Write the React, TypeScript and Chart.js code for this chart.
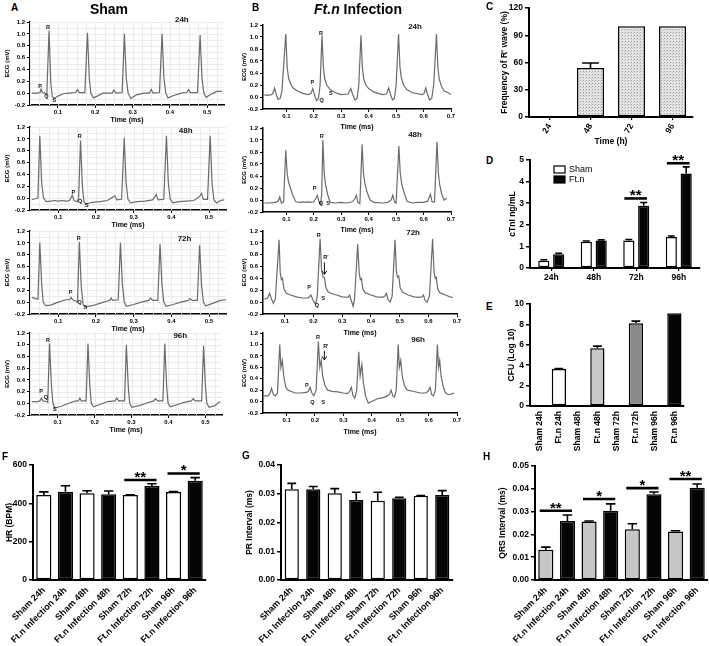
import React, { useEffect, useRef } from "react";
import { Chart, registerables } from "chart.js";

Chart.register(...registerables);

const FONT = '"Liberation Sans", Arial, Helvetica, sans-serif';
Chart.defaults.font.family = FONT;
Chart.defaults.color = "#000";

// ---------------- ECG traces (time in ms-axis units, mV) ----------------
const ecgSham24h: [number, number][] = [
  [0.03, 0], [0.045, 0], [0.052, 0.01], [0.055, 0.07], [0.058, 0.01], [0.066, 0], [0.07, -0.03], [0.076, 1.05],
  [0.081, 0.15], [0.085, -0.06], [0.09, -0.09], [0.1, -0.05], [0.115, -0.01], [0.13, 0], [0.147, 0.01], [0.152, 0.06],
  [0.157, 0.01], [0.172, 0.01], [0.179, 1.02], [0.184, 0.25], [0.188, 0], [0.195, -0.08], [0.205, -0.05], [0.22, 0],
  [0.245, 0], [0.25, 0.05], [0.255, 0], [0.272, 0.01], [0.278, 1.0], [0.283, 0.25], [0.288, 0], [0.295, -0.09],
  [0.31, -0.03], [0.33, 0], [0.345, 0], [0.35, 0.06], [0.355, 0], [0.372, 0.01], [0.379, 1.0], [0.384, 0.25],
  [0.389, 0], [0.395, -0.08], [0.41, -0.04], [0.43, 0], [0.445, 0.01], [0.45, 0.06], [0.455, 0.01], [0.474, 0.01],
  [0.481, 0.98], [0.486, 0.25], [0.491, 0], [0.497, -0.07], [0.51, -0.02], [0.525, 0.03], [0.54, 0.03],
];
const ecgSham48h: [number, number][] = [
  [0.03, -0.02], [0.04, -0.01], [0.046, 0.0], [0.051, 1.05], [0.056, 0.25], [0.061, 0.0], [0.068, -0.06], [0.08, -0.05],
  [0.09, -0.04], [0.1, -0.05], [0.11, -0.04], [0.12, -0.05], [0.13, -0.04], [0.137, 0.05], [0.142, -0.04], [0.15, -0.06],
  [0.154, 0.0], [0.159, 0.97], [0.164, 0.2], [0.168, -0.05], [0.173, -0.1], [0.19, -0.07], [0.21, -0.06], [0.23, -0.04],
  [0.245, 0.02], [0.25, 0.04], [0.255, -0.03], [0.268, -0.02], [0.275, 1.02], [0.28, 0.25], [0.285, -0.02], [0.292, -0.08],
  [0.31, -0.06], [0.33, -0.05], [0.35, -0.03], [0.36, 0.06], [0.365, -0.03], [0.38, -0.02], [0.387, 1.05], [0.392, 0.25],
  [0.397, -0.02], [0.404, -0.08], [0.42, -0.06], [0.44, -0.05], [0.46, -0.04], [0.475, 0.03], [0.48, 0.08], [0.485, -0.02],
  [0.496, -0.02], [0.503, 1.05], [0.508, 0.25], [0.513, -0.03], [0.52, -0.08], [0.53, -0.04], [0.54, -0.03],
];
const ecgSham72h: [number, number][] = [
  [0.03, 0.08], [0.04, 0.06], [0.046, 0.05], [0.051, 1.0], [0.056, 0.3], [0.06, 0.0], [0.066, -0.06], [0.08, -0.05],
  [0.1, 0.0], [0.12, 0.04], [0.13, 0.04], [0.134, 0.08], [0.138, 0.04], [0.146, 0.02], [0.151, 0.0], [0.156, 1.02],
  [0.161, 0.25], [0.166, -0.04], [0.172, -0.08], [0.19, -0.06], [0.21, -0.02], [0.23, 0.02], [0.237, 0.03], [0.24, 0.07],
  [0.244, 0.03], [0.259, 0.04], [0.265, 1.0], [0.27, 0.3], [0.275, 0.0], [0.281, -0.07], [0.3, -0.04], [0.32, 0.0],
  [0.34, 0.03], [0.345, 0.07], [0.35, 0.03], [0.364, 0.03], [0.37, 0.98], [0.375, 0.3], [0.38, 0.0], [0.386, -0.07],
  [0.405, -0.04], [0.425, 0.0], [0.445, 0.03], [0.45, 0.06], [0.455, 0.03], [0.469, 0.03], [0.475, 0.96], [0.48, 0.3],
  [0.485, 0.0], [0.491, -0.06], [0.51, -0.02], [0.53, 0.03], [0.545, 0.04],
];
const ecgSham96h: [number, number][] = [
  [0.03, 0.03], [0.045, 0.03], [0.052, 0.04], [0.056, 0.09], [0.06, 0.04], [0.068, 0.03], [0.073, 0.02], [0.078, 1.02],
  [0.083, 0.3], [0.087, 0.0], [0.092, -0.08], [0.11, -0.05], [0.13, 0.0], [0.15, 0.04], [0.156, 0.04], [0.16, 0.09],
  [0.164, 0.04], [0.177, 0.04], [0.182, 1.02], [0.187, 0.3], [0.191, 0.0], [0.197, -0.06], [0.215, -0.02], [0.235, 0.03],
  [0.255, 0.04], [0.26, 0.09], [0.265, 0.04], [0.281, 0.04], [0.286, 1.0], [0.291, 0.3], [0.295, 0.0], [0.301, -0.07],
  [0.32, -0.04], [0.34, 0.0], [0.36, 0.04], [0.365, 0.08], [0.37, 0.04], [0.385, 0.04], [0.39, 1.02], [0.395, 0.3],
  [0.399, 0.0], [0.405, -0.06], [0.425, -0.02], [0.445, 0.02], [0.462, 0.04], [0.467, 0.08], [0.472, 0.04], [0.49, 0.04],
  [0.495, 0.98], [0.5, 0.3], [0.504, 0.0], [0.51, -0.07], [0.525, -0.04], [0.54, 0.03],
];
const ecgFtn24h: [number, number][] = [
  [0.02, 0.03], [0.04, 0.03], [0.05, 0.05], [0.057, 0.15], [0.063, 0.05], [0.07, -0.04], [0.078, -0.02], [0.084, 0.1],
  [0.098, 1.05], [0.103, 0.5], [0.108, 0.32], [0.115, 0.22], [0.125, 0.15], [0.14, 0.1], [0.16, 0.06], [0.18, 0.04],
  [0.19, 0.06], [0.196, 0.14], [0.202, 0.05], [0.21, -0.06], [0.217, -0.03], [0.223, 0.2], [0.23, 1.03], [0.235, 0.5],
  [0.24, 0.3], [0.247, 0.2], [0.26, 0.12], [0.275, 0.08], [0.3, 0.04], [0.325, 0.05], [0.335, 0.14], [0.341, 0.05],
  [0.35, -0.05], [0.358, -0.02], [0.364, 0.2], [0.372, 1.03], [0.377, 0.5], [0.382, 0.3], [0.39, 0.2], [0.4, 0.14],
  [0.42, 0.08], [0.45, 0.04], [0.465, 0.05], [0.473, 0.15], [0.479, 0.05], [0.487, -0.05], [0.494, -0.02], [0.5, 0.2],
  [0.509, 1.05], [0.514, 0.5], [0.519, 0.32], [0.527, 0.2], [0.54, 0.12], [0.56, 0.07], [0.595, 0.04], [0.602, 0.06],
  [0.608, 0.15], [0.614, 0.05], [0.622, -0.05], [0.63, -0.02], [0.637, 0.2], [0.647, 1.05], [0.652, 0.5], [0.657, 0.3],
  [0.665, 0.18], [0.675, 0.1], [0.69, 0.07], [0.7, 0.04],
];
const ecgFtn48h: [number, number][] = [
  [0.02, -0.05], [0.04, -0.05], [0.06, -0.04], [0.07, -0.02], [0.076, 0.05], [0.082, -0.05], [0.09, -0.03], [0.098, 0.83],
  [0.103, 0.45], [0.108, 0.3], [0.115, 0.2], [0.125, 0.06], [0.135, -0.03], [0.15, -0.04], [0.16, -0.03], [0.17, -0.04],
  [0.18, -0.03], [0.19, -0.04], [0.2, -0.03], [0.207, 0.02], [0.213, 0.08], [0.219, -0.03], [0.225, -0.07], [0.229, 0.1],
  [0.233, 1.0], [0.238, 0.45], [0.243, 0.25], [0.25, 0.1], [0.26, -0.04], [0.28, -0.05], [0.3, -0.04], [0.32, -0.05],
  [0.34, -0.03], [0.35, 0.02], [0.355, 0.08], [0.361, -0.04], [0.368, -0.06], [0.376, 0.93], [0.381, 0.45], [0.386, 0.28],
  [0.393, 0.15], [0.405, 0.0], [0.42, -0.04], [0.45, -0.05], [0.47, -0.04], [0.482, 0.0], [0.488, 0.08], [0.494, -0.03],
  [0.5, -0.05], [0.51, 0.9], [0.515, 0.45], [0.52, 0.28], [0.527, 0.15], [0.54, -0.02], [0.56, -0.05], [0.58, -0.04],
  [0.6, -0.04], [0.615, -0.02], [0.625, 0.1], [0.631, -0.03], [0.64, -0.03], [0.649, 0.97], [0.654, 0.45], [0.659, 0.25],
  [0.666, 0.1], [0.675, 0.0], [0.685, 0.03],
];
const ecgFtn72h: [number, number][] = [
  [0.03, 0.05], [0.04, 0.07], [0.047, 0.15], [0.053, 0.06], [0.06, -0.02], [0.067, 0.05], [0.08, 1.05], [0.084, 0.5],
  [0.088, 0.38], [0.092, 0.4], [0.097, 0.22], [0.105, 0.15], [0.12, 0.12], [0.14, 0.09], [0.16, 0.07], [0.18, 0.07],
  [0.186, 0.09], [0.191, 0.12], [0.197, 0.05], [0.207, -0.04], [0.213, 0.1], [0.223, 1.07], [0.228, 0.55], [0.233, 0.42],
  [0.238, 0.42], [0.243, 0.25], [0.25, 0.18], [0.26, 0.15], [0.28, 0.12], [0.3, 0.09], [0.32, 0.08], [0.326, 0.12],
  [0.332, 0.02], [0.338, -0.07], [0.343, 0.05], [0.354, 0.98], [0.359, 0.5], [0.363, 0.38], [0.367, 0.4], [0.372, 0.22],
  [0.38, 0.16], [0.4, 0.12], [0.42, 0.09], [0.44, 0.08], [0.448, 0.1], [0.454, 0.15], [0.46, 0.04], [0.467, 0.0],
  [0.474, 0.1], [0.484, 1.05], [0.489, 0.5], [0.493, 0.42], [0.497, 0.44], [0.502, 0.24], [0.51, 0.17], [0.53, 0.12],
  [0.55, 0.09], [0.57, 0.08], [0.578, 0.09], [0.583, 0.12], [0.589, 0.03], [0.596, 0.0], [0.604, 0.1], [0.615, 1.07],
  [0.62, 0.5], [0.624, 0.4], [0.628, 0.42], [0.633, 0.22], [0.64, 0.16], [0.66, 0.12], [0.675, 0.09], [0.685, 0.08],
];
const ecgFtn96h: [number, number][] = [
  [0.02, 0.1], [0.035, 0.1], [0.042, 0.15], [0.047, 0.23], [0.053, 0.13], [0.06, 0.1], [0.068, 0.15], [0.076, 1.0],
  [0.08, 0.6], [0.085, 0.72], [0.09, 0.45], [0.097, 0.25], [0.105, 0.2], [0.115, 0.18], [0.13, 0.15], [0.15, 0.15],
  [0.17, 0.16], [0.177, 0.18], [0.183, 0.25], [0.189, 0.15], [0.196, 0.1], [0.204, 0.2], [0.212, 1.05], [0.217, 0.6],
  [0.222, 0.72], [0.227, 0.45], [0.235, 0.28], [0.245, 0.2], [0.26, 0.18], [0.28, 0.17], [0.3, 0.15], [0.315, 0.14],
  [0.322, 0.18], [0.328, 0.25], [0.334, 0.1], [0.34, 0.06], [0.347, 0.2], [0.354, 0.87], [0.359, 0.45], [0.365, 0.65],
  [0.37, 0.35], [0.378, 0.1], [0.388, -0.03], [0.4, 0.0], [0.42, 0.05], [0.44, 0.07], [0.455, 0.1], [0.462, 0.13],
  [0.468, 0.2], [0.474, 0.1], [0.48, 0.08], [0.486, 0.2], [0.493, 1.0], [0.497, 0.6], [0.502, 0.72], [0.507, 0.45],
  [0.515, 0.28], [0.525, 0.2], [0.545, 0.18], [0.57, 0.15], [0.59, 0.15], [0.598, 0.18], [0.605, 0.25], [0.611, 0.12],
  [0.617, 0.1], [0.624, 0.2], [0.631, 1.0], [0.635, 0.6], [0.639, 0.72], [0.644, 0.45], [0.652, 0.25], [0.66, 0.15],
  [0.67, 0.12], [0.68, 0.13], [0.69, 0.15],
];
const ecgXTicksSham = [0.1, 0.2, 0.3, 0.4, 0.5];
const ecgXTicksFtn = [0.1, 0.2, 0.3, 0.4, 0.5, 0.6, 0.7];
const ecgYTicks = [-0.2, 0, 0.2, 0.4, 0.6, 0.8, 1.0, 1.2];

// ---------------- Panel C ----------------
const cCategories = ["24", "48", "72", "96"];
const cValues = [0, 54, 100, 100];
const cErrors = [0, 5.5, 0, 0];
const cYTicks = [0, 30, 60, 90, 120];

// ---------------- Panel D ----------------
const dCategories = ["24h", "48h", "72h", "96h"];
const dSham = [0.33, 1.22, 1.27, 1.43];
const dShamErr = [0.05, 0.03, 0.05, 0.05];
const dFtn = [0.64, 1.27, 2.88, 4.38];
const dFtnErr = [0.04, 0.03, 0.15, 0.3];
const dYTicks = [0, 1, 2, 3, 4, 5];

// ---------------- Panel E ----------------
const eCategories = ["Sham 24h", "Ft.n 24h", "Sham 48h", "Ft.n 48h", "Sham 72h", "Ft.n 72h", "Sham 96h", "Ft.n 96h"];
const eValues = [0.05, 3.63, 0.05, 5.65, 0.05, 8.12, 0.05, 9.1];
const eErrors = [0, 0.05, 0, 0.22, 0, 0.2, 0, 0];
const eYTicks = [0, 2, 4, 6, 8, 10];

// ---------------- Panels F, G, H ----------------
const groupCategories = [
  "Sham 24h", "Ft.n Infection 24h", "Sham 48h", "Ft.n Infection 48h",
  "Sham 72h", "Ft.n Infection 72h", "Sham 96h", "Ft.n Infection 96h",
];
const fValues = [443, 461, 452, 447, 443, 490, 459, 518];
const fErrors = [17, 31, 14, 17, 2, 12, 2, 16];
const fYTicks = [0, 200, 400, 600];
const gValues = [0.0316, 0.0316, 0.0302, 0.0278, 0.0276, 0.0284, 0.0293, 0.0296];
const gErrors = [0.002, 0.0009, 0.0016, 0.0027, 0.0029, 0.0004, 0.0001, 0.0015];
const gYTicks = [0, 0.01, 0.02, 0.03, 0.04];
const hValues = [0.0133, 0.0259, 0.0257, 0.0304, 0.0223, 0.0376, 0.0213, 0.0405];
const hErrors = [0.0011, 0.0026, 0.0002, 0.003, 0.0024, 0.001, 0.0003, 0.0016];
const hYTicks = [0, 0.01, 0.02, 0.03, 0.04, 0.05];

// ---------------- helpers ----------------
type Area = { l: number; t: number; r: number; b: number };
type Pad = { l: number; t: number; r: number; b: number };

function boxOf(a: Area, yW: number, xH: number, p: Pad) {
  const left = a.l - yW - p.l;
  const top = a.t - p.t;
  return { left, top, width: a.r + p.r - left, height: a.b + xH + p.b - top };
}

const fixW = (w: number) => (s: any) => {
  s.width = w;
  s.paddingTop = 0; s.paddingBottom = 0; s.paddingLeft = 0; s.paddingRight = 0;
};
const fixH = (h: number) => (s: any) => {
  s.height = h;
  s.paddingTop = 0; s.paddingBottom = 0; s.paddingLeft = 0; s.paddingRight = 0;
};

type EcgSpec = {
  area: Area; yW: number; xH: number; pad: Pad;
  points: [number, number][];
  xMin: number; xMax: number; xTicks: number[];
  tag: string; tagPos: [number, number];
  marks: [string, number, number][];
  arrows?: [number, number, number][];
  grid: boolean;
};

function ecgDecor(s: EcgSpec) {
  return {
    id: "ecgDecor",
    beforeDatasetsDraw(chart: any) {
      if (!s.grid) return;
      const { ctx, chartArea: a, scales } = chart;
      const x = scales.x, y = scales.y;
      ctx.save();
      ctx.strokeStyle = "#ebebeb";
      ctx.lineWidth = 1;
      ctx.beginPath();
      for (let v = Math.ceil(s.xMin / 0.025) * 0.025; v <= s.xMax; v += 0.025) {
        const px = Math.round(x.getPixelForValue(v)) + 0.5;
        ctx.moveTo(px, a.top); ctx.lineTo(px, a.bottom);
      }
      for (let v = -0.1; v <= 1.2; v += 0.1) {
        const py = Math.round(y.getPixelForValue(v)) + 0.5;
        ctx.moveTo(a.left, py); ctx.lineTo(a.right, py);
      }
      ctx.stroke();
      ctx.restore();
    },
    afterDatasetsDraw(chart: any) {
      const { ctx, scales } = chart;
      const x = scales.x, y = scales.y;
      ctx.save();
      ctx.fillStyle = "#111";
      ctx.textAlign = "center";
      ctx.textBaseline = "middle";
      ctx.font = `bold 8px ${FONT}`;
      ctx.fillText(s.tag, x.getPixelForValue(s.tagPos[0]), y.getPixelForValue(s.tagPos[1]));
      ctx.font = `bold 5.5px ${FONT}`;
      s.marks.forEach(([t, vx, vy]) => {
        ctx.fillText(t, x.getPixelForValue(vx), y.getPixelForValue(vy));
      });
      (s.arrows || []).forEach(([vx, y1, y2]) => {
        const px = x.getPixelForValue(vx);
        const p1 = y.getPixelForValue(y1);
        const p2 = y.getPixelForValue(y2);
        ctx.strokeStyle = "#111";
        ctx.lineWidth = 1;
        ctx.beginPath();
        ctx.moveTo(px, p1); ctx.lineTo(px, p2);
        ctx.moveTo(px - 2.5, p2 - 3.5); ctx.lineTo(px, p2); ctx.lineTo(px + 2.5, p2 - 3.5);
        ctx.stroke();
      });
      ctx.restore();
    },
  };
}

function ecgConfig(s: EcgSpec): any {
  const tickFont = { size: 6, weight: "bold" as const };
  return {
    type: "line",
    data: {
      datasets: [{
        data: s.points.map(([x, y]) => ({ x, y })),
        borderColor: "#6b6b6b",
        borderWidth: 1.2,
        pointRadius: 0,
        tension: 0,
        fill: false,
      }],
    },
    options: {
      responsive: false,
      animation: false,
      devicePixelRatio: 1,
      events: [],
      layout: { padding: { left: s.pad.l, top: s.pad.t, right: s.pad.r, bottom: s.pad.b } },
      plugins: { legend: { display: false }, tooltip: { enabled: false } },
      scales: {
        x: {
          type: "linear",
          min: s.xMin,
          max: s.xMax,
          afterBuildTicks: (sc: any) => { sc.ticks = s.xTicks.map((v) => ({ value: v })); },
          afterFit: fixH(s.xH),
          ticks: { font: tickFont, color: "#000", padding: 1, maxRotation: 0, autoSkip: false, callback: (v: any) => Number(v).toFixed(1) },
          grid: { drawOnChartArea: false, tickLength: 3, color: "#000", lineWidth: 1 },
          border: { color: "#000", width: 1.5 },
          title: { display: true, text: "Time (ms)", font: { size: 7, weight: "bold" }, color: "#000", padding: { top: 0, bottom: 0 } },
        },
        y: {
          type: "linear",
          min: -0.2,
          max: 1.2,
          afterBuildTicks: (sc: any) => { sc.ticks = ecgYTicks.map((v) => ({ value: v })); },
          afterFit: fixW(s.yW),
          ticks: { font: tickFont, color: "#000", padding: 2, autoSkip: false, callback: (v: any) => Number(v).toFixed(1) },
          grid: { drawOnChartArea: false, tickLength: 3, color: "#000", lineWidth: 1 },
          border: { color: "#000", width: 1.5 },
          title: { display: true, text: "ECG (mV)", font: { size: 6, weight: "bold" }, color: "#000", padding: { top: 1, bottom: 1 } },
        },
      },
    },
    plugins: [ecgDecor(s)],
  };
}

type SigItem = { a: [number, number]; b: [number, number]; y: number; text: string };

type BarSpec = {
  area: Area; yW: number; xH: number; pad: Pad;
  labels: string[];
  datasets: { label: string; data: number[]; errors: number[]; color: any }[];
  yMax: number; yTicks: number[]; yDecimals: number;
  yTitle: string; xTitle?: string;
  rotation: number; xFont: number; xTicksVisible: boolean;
  barPct: number; catPct: number;
  sig?: SigItem[];
  legend?: boolean;
};

const errorPlugin = {
  id: "errBars",
  afterDatasetsDraw(chart: any) {
    const { ctx } = chart;
    const y = chart.scales.y;
    chart.data.datasets.forEach((ds: any, i: number) => {
      const meta = chart.getDatasetMeta(i);
      meta.data.forEach((bar: any, j: number) => {
        const e = ds.errors ? ds.errors[j] : 0;
        if (!e) return;
        const v = ds.data[j];
        const yt = y.getPixelForValue(v + e);
        const yb = y.getPixelForValue(v);
        const cw = bar.width * 0.62;
        ctx.save();
        ctx.strokeStyle = "#000";
        ctx.lineWidth = 1.6;
        ctx.beginPath();
        ctx.moveTo(bar.x, yb);
        ctx.lineTo(bar.x, yt);
        ctx.moveTo(bar.x - cw / 2, yt);
        ctx.lineTo(bar.x + cw / 2, yt);
        ctx.stroke();
        ctx.restore();
      });
    });
  },
};

function sigPlugin(items: SigItem[]) {
  return {
    id: "sigBars",
    afterDatasetsDraw(chart: any) {
      const { ctx } = chart;
      const y = chart.scales.y;
      items.forEach((it) => {
        const ea = chart.getDatasetMeta(it.a[0]).data[it.a[1]];
        const eb = chart.getDatasetMeta(it.b[0]).data[it.b[1]];
        const x1 = ea.x - ea.width * 0.4;
        const x2 = eb.x + eb.width * 0.3;
        const py = y.getPixelForValue(it.y);
        ctx.save();
        ctx.strokeStyle = "#000";
        ctx.lineWidth = 2.6;
        ctx.beginPath();
        ctx.moveTo(x1, py);
        ctx.lineTo(x2, py);
        ctx.stroke();
        ctx.fillStyle = "#000";
        ctx.font = `bold 15px ${FONT}`;
        ctx.textAlign = "center";
        ctx.textBaseline = "alphabetic";
        ctx.fillText(it.text, (x1 + x2) / 2, py + 2);
        ctx.restore();
      });
    },
  };
}

const legendPlugin = {
  id: "boxLegend",
  afterDraw(chart: any) {
    const { ctx, chartArea } = chart;
    chart.data.datasets.forEach((ds: any, i: number) => {
      const x = chartArea.left + 24;
      const y = chartArea.top + 6 + i * 10;
      ctx.save();
      ctx.fillStyle = ds.backgroundColor;
      ctx.fillRect(x, y, 11, 7);
      ctx.strokeStyle = "#000";
      ctx.lineWidth = 1.2;
      ctx.strokeRect(x, y, 11, 7);
      ctx.fillStyle = "#000";
      ctx.font = `9px ${FONT}`;
      ctx.textBaseline = "middle";
      ctx.textAlign = "left";
      ctx.fillText(ds.label, x + 15, y + 4);
      ctx.restore();
    });
  },
};

function barConfig(s: BarSpec): any {
  const tickFont = { size: 8.5, weight: "bold" as const };
  const plugins: any[] = [errorPlugin];
  if (s.sig) plugins.push(sigPlugin(s.sig));
  if (s.legend) plugins.push(legendPlugin);
  return {
    type: "bar",
    data: {
      labels: s.labels,
      datasets: s.datasets.map((d) => ({
        label: d.label,
        data: d.data,
        errors: d.errors,
        backgroundColor: d.color,
        borderColor: "#000",
        borderWidth: 1.5,
        borderSkipped: false,
        barPercentage: s.barPct,
        categoryPercentage: s.catPct,
      })),
    },
    options: {
      responsive: false,
      animation: false,
      devicePixelRatio: 1,
      events: [],
      layout: { padding: { left: s.pad.l, top: s.pad.t, right: s.pad.r, bottom: s.pad.b } },
      plugins: { legend: { display: false }, tooltip: { enabled: false } },
      scales: {
        x: {
          afterFit: fixH(s.xH),
          ticks: {
            font: { size: s.xFont, weight: "bold" },
            color: "#000",
            padding: 2,
            autoSkip: false,
            minRotation: s.rotation,
            maxRotation: s.rotation,
          },
          grid: {
            drawOnChartArea: false,
            offset: false,
            tickLength: 3,
            color: s.xTicksVisible ? "#000" : "rgba(0,0,0,0)",
            lineWidth: 1.2,
          },
          border: { color: "#000", width: 2 },
          title: s.xTitle
            ? { display: true, text: s.xTitle, font: { size: 8.5, weight: "bold" }, color: "#000", padding: { top: 0, bottom: 1 } }
            : { display: false },
        },
        y: {
          min: 0,
          max: s.yMax,
          afterBuildTicks: (sc: any) => { sc.ticks = s.yTicks.map((v) => ({ value: v })); },
          afterFit: fixW(s.yW),
          ticks: { font: tickFont, color: "#000", padding: 2, autoSkip: false, callback: (v: any) => Number(v).toFixed(s.yDecimals) },
          grid: { drawOnChartArea: false, tickLength: 4, color: "#000", lineWidth: 1.5 },
          border: { color: "#000", width: 2 },
          title: { display: true, text: s.yTitle, font: { size: 8.5, weight: "bold" }, color: "#000", padding: { top: 1, bottom: 1 } },
        },
      },
    },
    plugins,
  };
}

function dotPattern(canvas: HTMLCanvasElement): any {
  const c = document.createElement("canvas");
  c.width = 3; c.height = 3;
  const g = c.getContext("2d")!;
  g.fillStyle = "#e4e4e4";
  g.fillRect(0, 0, 3, 3);
  g.fillStyle = "#9c9c9c";
  g.fillRect(0, 0, 1, 1);
  g.fillStyle = "#c4c4c4";
  g.fillRect(2, 1, 1, 1);
  return canvas.getContext("2d")!.createPattern(c, "repeat");
}

type Box = { left: number; top: number; width: number; height: number };

function ChartBox({ box, make }: { box: Box; make: (c: HTMLCanvasElement) => any }) {
  const ref = useRef<HTMLCanvasElement>(null);
  useEffect(() => {
    const cv = ref.current!;
    const chart = new Chart(cv, make(cv));
    return () => chart.destroy();
  }, []);
  return (
    <canvas
      ref={ref}
      width={box.width}
      height={box.height}
      style={{ position: "absolute", left: box.left, top: box.top, width: box.width, height: box.height }}
    />
  );
}

// ---------------- specs ----------------
const padA: Pad = { l: 0, t: 8, r: 5, b: 0 };
const padB: Pad = { l: 0, t: 8, r: 6, b: 0 };

const ecgSpecs: EcgSpec[] = [
  { area: { l: 30, t: 22, r: 224, b: 105 }, yW: 27, xH: 19, pad: padA, points: ecgSham24h, xMin: 0.025, xMax: 0.545, xTicks: ecgXTicksSham,
    tag: "24h", tagPos: [0.432, 1.23], marks: [["R", 0.073, 1.1], ["P", 0.052, 0.12], ["Q", 0.069, -0.05], ["S", 0.09, -0.12]], grid: true },
  { area: { l: 30, t: 127, r: 226, b: 210 }, yW: 27, xH: 19, pad: padA, points: ecgSham48h, xMin: 0.025, xMax: 0.545, xTicks: ecgXTicksSham,
    tag: "48h", tagPos: [0.438, 1.13], marks: [["R", 0.157, 1.04], ["P", 0.14, 0.1], ["Q", 0.158, -0.06], ["S", 0.176, -0.13]], grid: true },
  { area: { l: 30, t: 231, r: 226, b: 314 }, yW: 27, xH: 19, pad: padA, points: ecgSham72h, xMin: 0.025, xMax: 0.545, xTicks: ecgXTicksSham,
    tag: "72h", tagPos: [0.435, 1.065], marks: [["R", 0.154, 1.08], ["P", 0.133, 0.16], ["Q", 0.157, 0.0], ["S", 0.172, -0.09]], grid: true },
  { area: { l: 30, t: 333, r: 222, b: 415 }, yW: 27, xH: 19, pad: padA, points: ecgSham96h, xMin: 0.025, xMax: 0.545, xTicks: ecgXTicksSham,
    tag: "96h", tagPos: [0.432, 1.15], marks: [["R", 0.074, 1.07], ["P", 0.055, 0.2], ["Q", 0.068, 0.1], ["S", 0.092, -0.1]], grid: true },
  { area: { l: 263, t: 25, r: 451, b: 109 }, yW: 23, xH: 22, pad: padB, points: ecgFtn24h, xMin: 0.015, xMax: 0.7, xTicks: ecgXTicksFtn,
    tag: "24h", tagPos: [0.569, 1.17], marks: [["R", 0.226, 1.06], ["P", 0.195, 0.24], ["Q", 0.229, -0.05], ["S", 0.262, 0.06]], grid: false },
  { area: { l: 263, t: 128, r: 451, b: 212 }, yW: 23, xH: 22, pad: padB, points: ecgFtn48h, xMin: 0.015, xMax: 0.7, xTicks: ecgXTicksFtn,
    tag: "48h", tagPos: [0.569, 1.08], marks: [["R", 0.229, 1.06], ["P", 0.203, 0.2], ["Q", 0.226, -0.06], ["S", 0.252, -0.06]], grid: false },
  { area: { l: 263, t: 231, r: 457, b: 314 }, yW: 23, xH: 23, pad: padB, points: ecgFtn72h, xMin: 0.024, xMax: 0.7, xTicks: ecgXTicksFtn,
    tag: "72h", tagPos: [0.547, 1.17], marks: [["R", 0.218, 1.12], ["R'", 0.243, 0.75], ["P", 0.185, 0.25], ["Q", 0.212, -0.05], ["S", 0.234, 0.07]],
    arrows: [[0.238, 0.67, 0.47]], grid: false },
  { area: { l: 263, t: 333, r: 457, b: 413 }, yW: 23, xH: 23, pad: padB, points: ecgFtn96h, xMin: 0.017, xMax: 0.7, xTicks: ecgXTicksFtn,
    tag: "96h", tagPos: [0.563, 1.08], marks: [["R", 0.211, 1.12], ["R'", 0.238, 0.96], ["P", 0.171, 0.28], ["Q", 0.191, -0.02], ["S", 0.229, -0.02]],
    arrows: [[0.233, 0.89, 0.73]], grid: false },
];

const WHITE = "#ffffff";
const BLACK = "#050505";
const GREY = "#c6c6c6";
const alternating = [WHITE, BLACK, WHITE, BLACK, WHITE, BLACK, WHITE, BLACK];
const alternatingGrey = [GREY, BLACK, GREY, BLACK, GREY, BLACK, GREY, BLACK];

const specC = (cv: HTMLCanvasElement): BarSpec => ({
  area: { l: 529, t: 8, r: 693, b: 117 }, yW: 30, xH: 31, pad: { l: 0, t: 6, r: 8, b: 0 },
  labels: cCategories,
  datasets: [{ label: "R' wave", data: cValues, errors: cErrors, color: dotPattern(cv) }],
  yMax: 120, yTicks: cYTicks, yDecimals: 0, yTitle: "Frequency of R' wave (%)", xTitle: "Time (h)",
  rotation: 60, xFont: 8.5, xTicksVisible: true, barPct: 0.66, catPct: 1,
});
const specD: BarSpec = {
  area: { l: 530, t: 160, r: 700, b: 268 }, yW: 23, xH: 16, pad: { l: 0, t: 5, r: 6, b: 0 },
  labels: dCategories,
  datasets: [
    { label: "Sham", data: dSham, errors: dShamErr, color: WHITE },
    { label: "Ft.n", data: dFtn, errors: dFtnErr, color: BLACK },
  ],
  yMax: 5, yTicks: dYTicks, yDecimals: 0, yTitle: "cTnI ng/mL",
  rotation: 0, xFont: 8.5, xTicksVisible: true, barPct: 0.75, catPct: 0.7,
  sig: [
    { a: [0, 2], b: [1, 2], y: 3.22, text: "**" },
    { a: [0, 3], b: [1, 3], y: 4.85, text: "**" },
  ],
  legend: true,
};
const specE: BarSpec = {
  area: { l: 530, t: 304, r: 684, b: 406 }, yW: 24, xH: 46, pad: { l: 0, t: 5, r: 6, b: 0 },
  labels: eCategories,
  datasets: [{ label: "CFU", data: eValues, errors: eErrors, color: ["#333", WHITE, "#333", "#c8c8c8", "#333", "#8a8a8a", "#333", BLACK] }],
  yMax: 10, yTicks: eYTicks, yDecimals: 0, yTitle: "CFU (Log 10)",
  rotation: 90, xFont: 8.5, xTicksVisible: false, barPct: 0.74, catPct: 1,
};
const specF: BarSpec = {
  area: { l: 33, t: 465, r: 206, b: 580 }, yW: 29, xH: 66, pad: { l: 0, t: 8, r: 4, b: 0 },
  labels: groupCategories,
  datasets: [{ label: "HR", data: fValues, errors: fErrors, color: alternating }],
  yMax: 600, yTicks: fYTicks, yDecimals: 0, yTitle: "HR (BPM)",
  rotation: 45, xFont: 9, xTicksVisible: false, barPct: 0.7, catPct: 1,
  sig: [
    { a: [0, 4], b: [0, 5], y: 522, text: "**" },
    { a: [0, 6], b: [0, 7], y: 556, text: "*" },
  ],
};
const specG: BarSpec = {
  area: { l: 281, t: 465, r: 453, b: 580 }, yW: 37, xH: 66, pad: { l: 0, t: 8, r: 4, b: 0 },
  labels: groupCategories,
  datasets: [{ label: "PR", data: gValues, errors: gErrors, color: alternating }],
  yMax: 0.04, yTicks: gYTicks, yDecimals: 2, yTitle: "PR Interval (ms)",
  rotation: 45, xFont: 9, xTicksVisible: false, barPct: 0.66, catPct: 1,
};
const specH: BarSpec = {
  area: { l: 535, t: 466, r: 708, b: 580 }, yW: 38, xH: 66, pad: { l: 0, t: 8, r: 1, b: 0 },
  labels: groupCategories,
  datasets: [{ label: "QRS", data: hValues, errors: hErrors, color: alternatingGrey }],
  yMax: 0.05, yTicks: hYTicks, yDecimals: 2, yTitle: "QRS Interval (ms)",
  rotation: 45, xFont: 9, xTicksVisible: false, barPct: 0.7, catPct: 1,
  sig: [
    { a: [0, 0], b: [0, 1], y: 0.0304, text: "**" },
    { a: [0, 2], b: [0, 3], y: 0.0355, text: "*" },
    { a: [0, 4], b: [0, 5], y: 0.0403, text: "*" },
    { a: [0, 6], b: [0, 7], y: 0.0443, text: "**" },
  ],
};

function Label({ text, left, top, size = 10, center = false, children }: any) {
  return (
    <div
      style={{
        position: "absolute",
        left,
        top,
        fontSize: size,
        fontWeight: "bold",
        lineHeight: 1,
        whiteSpace: "nowrap",
        transform: center ? "translateX(-50%)" : undefined,
        color: "#000",
      }}
    >
      {children || text}
    </div>
  );
}

export default function App() {
  return (
    <div
      style={{
        position: "absolute",
        left: 0,
        top: 0,
        width: 709,
        height: 646,
        background: "#fff",
        fontFamily: FONT,
        overflow: "hidden",
      }}
    >
      {ecgSpecs.map((s, i) => (
        <ChartBox key={"ecg" + i} box={boxOf(s.area, s.yW, s.xH, s.pad)} make={() => ecgConfig(s)} />
      ))}
      <ChartBox box={boxOf({ l: 529, t: 8, r: 693, b: 117 }, 30, 31, { l: 0, t: 6, r: 8, b: 0 })} make={(cv) => barConfig(specC(cv))} />
      <ChartBox box={boxOf(specD.area, specD.yW, specD.xH, specD.pad)} make={() => barConfig(specD)} />
      <ChartBox box={boxOf(specE.area, specE.yW, specE.xH, specE.pad)} make={() => barConfig(specE)} />
      <ChartBox box={boxOf(specF.area, specF.yW, specF.xH, specF.pad)} make={() => barConfig(specF)} />
      <ChartBox box={boxOf(specG.area, specG.yW, specG.xH, specG.pad)} make={() => barConfig(specG)} />
      <ChartBox box={boxOf(specH.area, specH.yW, specH.xH, specH.pad)} make={() => barConfig(specH)} />

      <Label text="A" left={11} top={3} />
      <Label text="Sham" left={109} top={2} size={14} center />
      <Label text="B" left={252} top={3} />
      <Label left={358} top={2} size={14} center>
        <span style={{ fontStyle: "italic" }}>Ft.n</span> Infection
      </Label>
      <Label text="C" left={486} top={2} />
      <Label text="D" left={486} top={156} />
      <Label text="E" left={486} top={302} />
      <Label text="F" left={2} top={452} />
      <Label text="G" left={242} top={451} />
      <Label text="H" left={483} top={452} />
    </div>
  );
}
